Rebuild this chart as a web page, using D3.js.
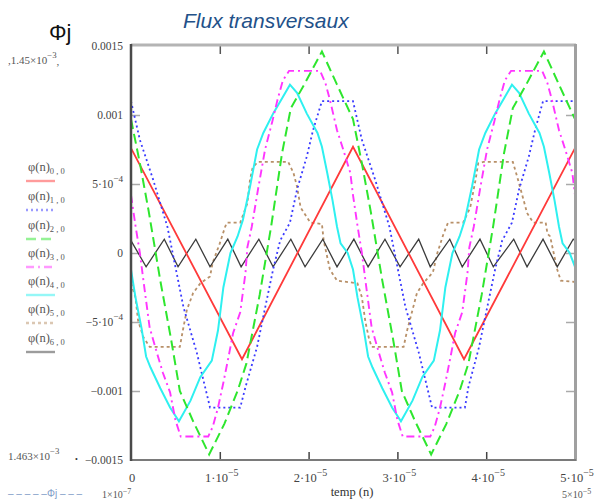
<!DOCTYPE html>
<html><head><meta charset="utf-8">
<script src="https://cdn.jsdelivr.net/npm/d3@7/dist/d3.min.js"></script>
<style>body{margin:0;background:#fff}svg{display:block}</style>
</head><body><svg id="c" width="602" height="502"></svg>
<script>
// units: time in 1e-5 s, flux in 1e-3
const T_UNIT = 1e-5, PHI_UNIT = 1e-3;

const time0 = [0, 1.25, 2.5, 3.75, 5.0];
const phi0  = [0.76, -0.77, 0.77, -0.77, 0.76];

const time1 = [0, 0.10, 0.25, 0.41, 0.59, 0.74, 0.89, 1.23, 1.29, 1.42, 1.49, 1.60, 1.68, 1.79, 1.87, 1.98, 2.05, 2.15,
               2.50, 2.60, 2.75, 2.91, 3.09, 3.24, 3.39, 3.76, 3.80, 3.92, 3.99, 4.10, 4.18, 4.29, 4.37, 4.48, 4.55, 4.64, 5.00];
const phi1  = [1.10, 0.82, 0.53, 0.19, -0.39, -0.72, -1.12, -1.12, -0.97, -0.68, -0.46, -0.12, 0.09, 0.22, 0.46, 0.70, 0.89, 1.10,
               1.10, 0.82, 0.53, 0.19, -0.39, -0.72, -1.12, -1.12, -0.97, -0.68, -0.46, -0.12, 0.09, 0.22, 0.46, 0.70, 0.89, 1.10, 1.10];

const time2 = [0, 0.10, 0.20, 0.33, 0.45, 0.55, 0.70, 0.88, 1.05, 1.20, 1.30, 1.45, 1.58, 1.70, 1.80, 1.95, 2.15, 2.32,
               2.50, 2.60, 2.70, 2.83, 2.95, 3.05, 3.20, 3.38, 3.55, 3.70, 3.80, 3.95, 4.08, 4.20, 4.30, 4.45, 4.65, 4.82, 5.00];
const phi2  = [0.97, 0.65, 0.30, -0.20, -0.62, -1.00, -1.22, -1.46, -1.24, -1.00, -0.80, -0.30, 0.20, 0.72, 1.05, 1.22, 1.46, 1.22,
               0.97, 0.65, 0.30, -0.20, -0.62, -1.00, -1.22, -1.46, -1.24, -1.00, -0.80, -0.30, 0.20, 0.72, 1.05, 1.22, 1.46, 1.22, 0.97];

const time3 = [0, 0.05, 0.10, 0.14, 0.21, 0.29, 0.36, 0.44, 0.50, 0.56, 0.87, 0.92, 0.98, 1.04, 1.09, 1.15, 1.23, 1.29, 1.31, 1.36, 1.43, 1.51, 1.59, 1.65, 1.71, 1.78, 2.13, 2.19, 2.24, 2.32, 2.39, 2.47,
               2.50, 2.55, 2.60, 2.64, 2.71, 2.79, 2.86, 2.94, 3.00, 3.06, 3.37, 3.42, 3.48, 3.54, 3.59, 3.65, 3.73, 3.79, 3.81, 3.86, 3.93, 4.01, 4.09, 4.15, 4.21, 4.28, 4.63, 4.69, 4.74, 4.82, 4.89, 4.97, 5.00];
const phi3  = [0.42, 0.20, 0.00, -0.20, -0.54, -0.72, -0.87, -1.01, -1.21, -1.33, -1.33, -1.26, -1.12, -0.94, -0.78, -0.58, -0.43, -0.14, 0.04, 0.19, 0.46, 0.75, 0.95, 1.11, 1.25, 1.32, 1.32, 1.23, 1.11, 0.89, 0.75, 0.58,
               0.42, 0.20, 0.00, -0.20, -0.54, -0.72, -0.87, -1.01, -1.21, -1.33, -1.33, -1.26, -1.12, -0.94, -0.78, -0.58, -0.43, -0.14, 0.04, 0.19, 0.46, 0.75, 0.95, 1.11, 1.25, 1.32, 1.32, 1.23, 1.11, 0.89, 0.75, 0.58, 0.42];

const time4 = [0, 0.05, 0.12, 0.17, 0.22, 0.33, 0.44, 0.54, 0.67, 0.78, 0.91, 0.98, 1.04, 1.12, 1.20, 1.26, 1.34, 1.42, 1.49, 1.60, 1.71, 1.79, 1.87, 1.98, 2.10, 2.15, 2.21, 2.27, 2.32, 2.36, 2.44,
               2.50, 2.55, 2.62, 2.67, 2.72, 2.83, 2.94, 3.04, 3.17, 3.28, 3.41, 3.48, 3.54, 3.62, 3.70, 3.76, 3.84, 3.92, 3.99, 4.10, 4.21, 4.29, 4.37, 4.48, 4.60, 4.65, 4.71, 4.77, 4.82, 4.86, 4.94, 5.00];
const phi4  = [-0.12, -0.32, -0.55, -0.75, -0.83, -0.98, -1.12, -1.22, -1.07, -0.90, -0.78, -0.56, -0.25, 0.00, 0.12, 0.24, 0.48, 0.75, 0.87, 1.01, 1.13, 1.22, 1.16, 1.01, 0.87, 0.77, 0.58, 0.38, 0.19, 0.07, 0.00,
               -0.12, -0.32, -0.55, -0.75, -0.83, -0.98, -1.12, -1.22, -1.07, -0.90, -0.78, -0.56, -0.25, 0.00, 0.12, 0.24, 0.48, 0.75, 0.87, 1.01, 1.13, 1.22, 1.16, 1.01, 0.87, 0.77, 0.58, 0.38, 0.19, 0.07, 0.00, -0.10];

const time5 = [0, 0.05, 0.08, 0.14, 0.21, 0.55, 0.59, 0.63, 0.70, 0.78, 0.89, 0.92, 1.00, 1.06, 1.08, 1.23, 1.31, 1.34, 1.37, 1.43, 1.77, 1.83, 1.87, 1.91, 2.02, 2.15, 2.17, 2.24, 2.32,
               2.55, 2.60, 2.64, 2.68, 2.71, 3.07, 3.11, 3.22, 3.29, 3.40, 3.45, 3.52, 3.57, 3.74, 3.82, 3.88, 3.91, 3.97, 4.30, 4.35, 4.41, 4.46, 4.53, 4.67, 4.69, 4.72, 4.76, 4.80, 4.84, 5.00];
const phi5  = [-0.22, -0.32, -0.49, -0.61, -0.68, -0.68, -0.54, -0.41, -0.29, -0.22, -0.17, -0.07, 0.07, 0.19, 0.22, 0.22, 0.36, 0.53, 0.62, 0.66, 0.66, 0.58, 0.48, 0.33, 0.22, 0.21, 0.09, -0.12, -0.20,
               -0.22, -0.32, -0.50, -0.62, -0.68, -0.68, -0.56, -0.29, -0.22, -0.14, 0.00, 0.14, 0.22, 0.22, 0.33, 0.53, 0.65, 0.66, 0.66, 0.55, 0.41, 0.29, 0.22, 0.22, 0.14, 0.12, 0.00, -0.12, -0.20, -0.21];

const time6 = [0, 0.17, 0.375, 0.53, 0.73, 0.89, 1.09, 1.24, 1.44, 1.60, 1.80, 1.96, 2.16, 2.32, 2.51, 2.67, 2.86, 3.03, 3.24, 3.37, 3.59, 3.73, 3.93, 4.08, 4.31, 4.46, 4.64, 4.80, 4.98, 5.00];
const phi6  = [0.09, -0.10, 0.10, -0.10, 0.10, -0.10, 0.10, -0.10, 0.10, -0.10, 0.10, -0.10, 0.10, -0.10, 0.10, -0.10, 0.10, -0.10, 0.10, -0.10, 0.10, -0.10, 0.10, -0.10, 0.10, -0.10, 0.10, -0.10, 0.10, 0.09];

const seriesIndex = ["0", "1", "2", "3", "4", "5", "6"];

const yTickValues = [-0.0015, -0.001, -0.0005, 0, 0.0005, 0.001, 0.0015];
const yTickBase   = ["\u22120.0015", "\u22120.001", "\u22125\u00b710", "0", "5\u00b710", "0.001", "0.0015"];
const yTickExp    = ["", "", "\u22124", "", "\u22124", "", ""];
const xTickValues = [0, 1e-5, 2e-5, 3e-5, 4e-5, 5e-5];
const xTickBase   = ["0", "1\u00b710", "2\u00b710", "3\u00b710", "4\u00b710", "5\u00b710"];
const xTickExp    = ["", "\u22125", "\u22125", "\u22125", "\u22125", "\u22125"];

const times = [time0, time1, time2, time3, time4, time5, time6];
const phis  = [phi0, phi1, phi2, phi3, phi4, phi5, phi6];
const series = times.map((tt, k) => tt.map((t, i) => ({t: t * T_UNIT, v: phis[k][i] * PHI_UNIT})));

const styles = [
  {c: "#ff3a3a", d: null, w: 1.8},
  {c: "#3a3aff", d: "2,3", w: 1.8},
  {c: "#2ee62e", d: "10,5", w: 2},
  {c: "#ff35ff", d: "8,4,2,4", w: 1.9},
  {c: "#2ef0f0", d: null, w: 2},
  {c: "#b89068", d: "3,3", w: 1.8},
  {c: "#3c3c3c", d: null, w: 1.3}
];

const svg = d3.select("#c");
svg.append("rect").attr("width", 602).attr("height", 502).attr("fill", "#fff");

const L = 131, R = 575, T = 46, B = 460;
const x = d3.scaleLinear().domain([0, 5e-5]).range([L, R]);
const y = d3.scaleLinear().domain([-0.0015, 0.0015]).range([B, T]);

svg.append("clipPath").attr("id", "clip").append("rect")
  .attr("x", L).attr("y", T - 2).attr("width", R - L).attr("height", B - T + 4);

// title
svg.append("text").attr("x", 183).attr("y", 28)
  .attr("font-family", "Liberation Sans, Arial, sans-serif").attr("font-style", "italic")
  .attr("font-size", 21).attr("fill", "#235189").text("Flux transversaux");

svg.append("text").attr("x", 49).attr("y", 40)
  .attr("font-family", "Liberation Sans, Arial, sans-serif")
  .attr("font-size", 22).attr("fill", "#111").text("\u03a6j");

function supText(g, xPos, yPos, base, exp, anchor, size, fill) {
  const t = g.append("text").attr("x", xPos).attr("y", yPos)
    .attr("text-anchor", anchor).attr("font-family", "Liberation Serif, Times New Roman, serif")
    .attr("font-size", size).attr("fill", fill);
  t.append("tspan").text(base);
  if (exp) t.append("tspan").attr("dy", -6).attr("font-size", size * 0.8).text(exp);
  return t;
}

// ticks (inside)
const tickG = svg.append("g");
tickG.append("g").attr("transform", `translate(0,${B})`)
  .call(d3.axisBottom(x).tickValues(xTickValues.slice(1, -1)).tickSize(-8).tickFormat(""))
  .call(g => { g.select(".domain").remove(); g.selectAll("line").attr("stroke", "#444").attr("stroke-width", 1.5); });
tickG.append("g").attr("transform", `translate(0,${T})`)
  .call(d3.axisTop(x).tickValues(xTickValues.slice(1, -1)).tickSize(-8).tickFormat(""))
  .call(g => { g.select(".domain").remove(); g.selectAll("line").attr("stroke", "#555").attr("stroke-width", 1.5); });
tickG.append("g").attr("transform", `translate(${L},0)`)
  .call(d3.axisLeft(y).tickValues(yTickValues.slice(1, -1)).tickSize(-9).tickFormat(""))
  .call(g => { g.select(".domain").remove(); g.selectAll("line").attr("stroke", "#aaa").attr("stroke-width", 1.5); });
tickG.append("g").attr("transform", `translate(${R},0)`)
  .call(d3.axisRight(y).tickValues(yTickValues.slice(1, -1)).tickSize(-9).tickFormat(""))
  .call(g => { g.select(".domain").remove(); g.selectAll("line").attr("stroke", "#aaa").attr("stroke-width", 1.5); });

// series
const line = d3.line().x(d => x(d.t)).y(d => y(d.v));
const plotG = svg.append("g").attr("clip-path", "url(#clip)");
[5, 6, 0, 1, 4, 2, 3].forEach(k => {
  plotG.append("path").datum(series[k]).attr("d", line)
    .attr("fill", "none").attr("stroke", styles[k].c).attr("stroke-width", styles[k].w)
    .attr("stroke-dasharray", styles[k].d).attr("stroke-linejoin", "miter");
});

// frame
svg.append("line").attr("x1", L).attr("x2", R + 1).attr("y1", T - 1).attr("y2", T - 1).attr("stroke", "#b4b4b4").attr("stroke-width", 3);
svg.append("line").attr("x1", R + 0.5).attr("x2", R + 0.5).attr("y1", T - 2).attr("y2", B + 1).attr("stroke", "#a0a0a0").attr("stroke-width", 3);
svg.append("line").attr("x1", L).attr("x2", R + 1).attr("y1", B).attr("y2", B).attr("stroke", "#7a7a7a").attr("stroke-width", 2);
svg.append("line").attr("x1", L).attr("x2", L).attr("y1", T - 2).attr("y2", B + 1).attr("stroke", "#4a4a4a").attr("stroke-width", 2.5);

// y labels
yTickValues.forEach((v, i) => supText(svg, 123, y(v) + 4, yTickBase[i], yTickExp[i], "end", 11.5, "#444"));
// x labels
xTickValues.forEach((v, i) => supText(svg, x(v) + (i === 0 ? 1 : 2), 482, xTickBase[i], xTickExp[i], "middle", 12.5, "#444"));

supText(svg, 352, 496, "temp (n)", "", "middle", 12.5, "#333");
const lo = supText(svg, 102, 498, "1\u00d710", "\u22127", "start", 10, "#555");
lo.select("tspan:last-child").attr("dy", -4);
const ro = supText(svg, 562, 498, "5\u00d710", "\u22125", "start", 10, "#555");
ro.select("tspan:last-child").attr("dy", -4);
const lab1 = supText(svg, 8, 64, ",1.45\u00d710", "\u22123", "start", 11, "#555");
lab1.append("tspan").attr("dy", 7).attr("font-size", 11).text(",");
supText(svg, 8, 460, "1.463\u00d710", "\u22123", "start", 11, "#555");
svg.append("text").attr("x", 75).attr("y", 462).attr("font-size", 8).attr("fill", "#333").text("\u2022");
svg.append("text").attr("x", 8).attr("y", 497).attr("font-family", "Liberation Sans, sans-serif")
  .attr("font-size", 10).attr("fill", "#7f9cc8").text("\u2012 \u2012 \u2012 \u2012 \u2012\u03a6j \u2012 \u2012 \u2012");

// legend
const legY = [167, 196, 225, 253, 281, 309, 338];
seriesIndex.forEach((s, k) => {
  const t = svg.append("text").attr("x", 28).attr("y", legY[k] + 4)
    .attr("font-family", "Liberation Serif, Times New Roman, serif").attr("font-size", 12.5).attr("fill", "#555");
  t.append("tspan").text("\u03c6(n)");
  t.append("tspan").attr("dy", 3).attr("font-size", 8.5).text(s + " , 0");
  svg.append("line").attr("x1", 26).attr("x2", 55).attr("y1", legY[k] + 14).attr("y2", legY[k] + 14)
    .attr("stroke", styles[k].c).attr("stroke-width", 2.4).attr("stroke-dasharray", styles[k].d).attr("opacity", 0.5);
});
</script>
</body></html>
